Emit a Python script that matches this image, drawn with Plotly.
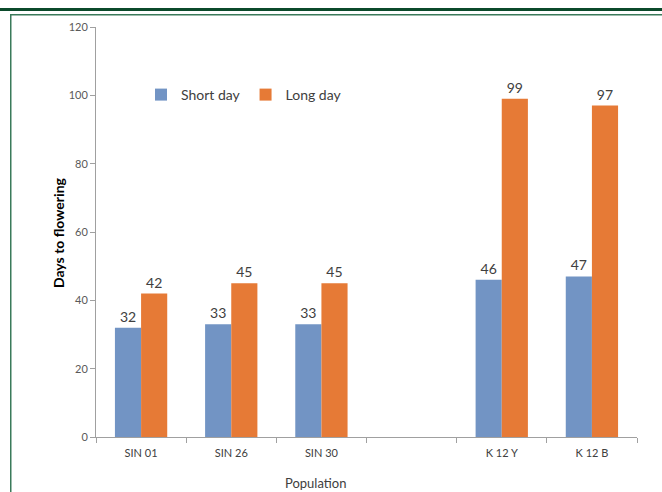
import plotly.graph_objects as go

categories = ["SIN 01", "SIN 26", "SIN 30", " ", "K 12 Y", "K 12 B"]
short_day = [32, 33, 33, None, 46, 47]
long_day = [42, 45, 45, None, 99, 97]
y_ticks = [0, 20, 40, 60, 80, 100, 120]

W, H = 662, 492
L, R, T, B = 96, 25, 27, 55
pw = W - L - R
ph = H - T - B

def px(x):
    return (x - L) / pw

def py(y):
    return (H - B - y) / ph

font = "Lato, 'Open Sans', sans-serif"

fig = go.Figure()
fig.add_trace(go.Bar(
    x=categories, y=short_day, name="Short day",
    marker=dict(color="#7294C4", line=dict(width=0)),
    text=[str(v) if v is not None else "" for v in short_day],
    textposition="outside", textfont=dict(size=14, color="#404040", family=font),
    cliponaxis=False,
))
fig.add_trace(go.Bar(
    x=categories, y=long_day, name="Long day",
    marker=dict(color="#E67A36", line=dict(width=0)),
    text=[str(v) if v is not None else "" for v in long_day],
    textposition="outside", textfont=dict(size=14, color="#404040", family=font),
    cliponaxis=False,
))

fig.update_layout(
    width=W, height=H,
    margin=dict(l=L, r=R, t=T, b=B, autoexpand=False),
    paper_bgcolor="white", plot_bgcolor="white",
    barmode="group", bargap=0.42, bargroupgap=0,
    font=dict(family=font, color="#595959", size=11),
    showlegend=True,
    legend=dict(orientation="h", x=px(141), y=py(79), xanchor="left", yanchor="top",
                font=dict(size=14, color="#404040", family=font),
                bgcolor="rgba(0,0,0,0)", itemwidth=30, traceorder="normal"),
    xaxis=dict(
        type="category", categoryorder="array", categoryarray=categories,
        showline=True, linecolor="#A0A0A0", linewidth=1,
        ticks="outside", tickson="boundaries", ticklen=5, tickcolor="#A0A0A0",
        tickfont=dict(size=11, color="#404040", family=font),
        ticklabelstandoff=6,
        showgrid=False, zeroline=False,
    ),
    yaxis=dict(
        range=[0, 120], tickvals=y_ticks,
        showline=True, linecolor="#A0A0A0", linewidth=1,
        ticks="outside", ticklen=5, tickcolor="#A0A0A0",
        tickfont=dict(size=11, color="#595959", family=font),
        showgrid=False, zeroline=False,
    ),
    annotations=[
        dict(text="Population", xref="paper", yref="paper", x=px(315), y=py(483),
             xanchor="center", yanchor="middle", showarrow=False,
             font=dict(size=13, color="#404040", family=font)),
        dict(text="<b>Days to flowering</b>", xref="paper", yref="paper", x=px(58), y=py(233),
             xanchor="center", yanchor="middle", showarrow=False, textangle=-90,
             font=dict(size=14, color="#000000", family=font)),
    ],
    shapes=[
        dict(type="rect", xref="paper", yref="paper", x0=px(0), x1=px(W), y0=py(11), y1=py(8),
             fillcolor="#0B4A2B", line=dict(width=0), layer="above"),
        dict(type="rect", xref="paper", yref="paper", x0=px(10), x1=px(W), y0=py(15.5), y1=py(14),
             fillcolor="#3A7A5A", line=dict(width=0), layer="above"),
        dict(type="rect", xref="paper", yref="paper", x0=px(10), x1=px(11.5), y0=py(H), y1=py(14),
             fillcolor="#3A7A5A", line=dict(width=0), layer="above"),
    ],
)

fig.write_html("out.html", config={"displayModeBar": False},
               post_script="document.body.style.margin='0';document.body.style.overflow='hidden';")
